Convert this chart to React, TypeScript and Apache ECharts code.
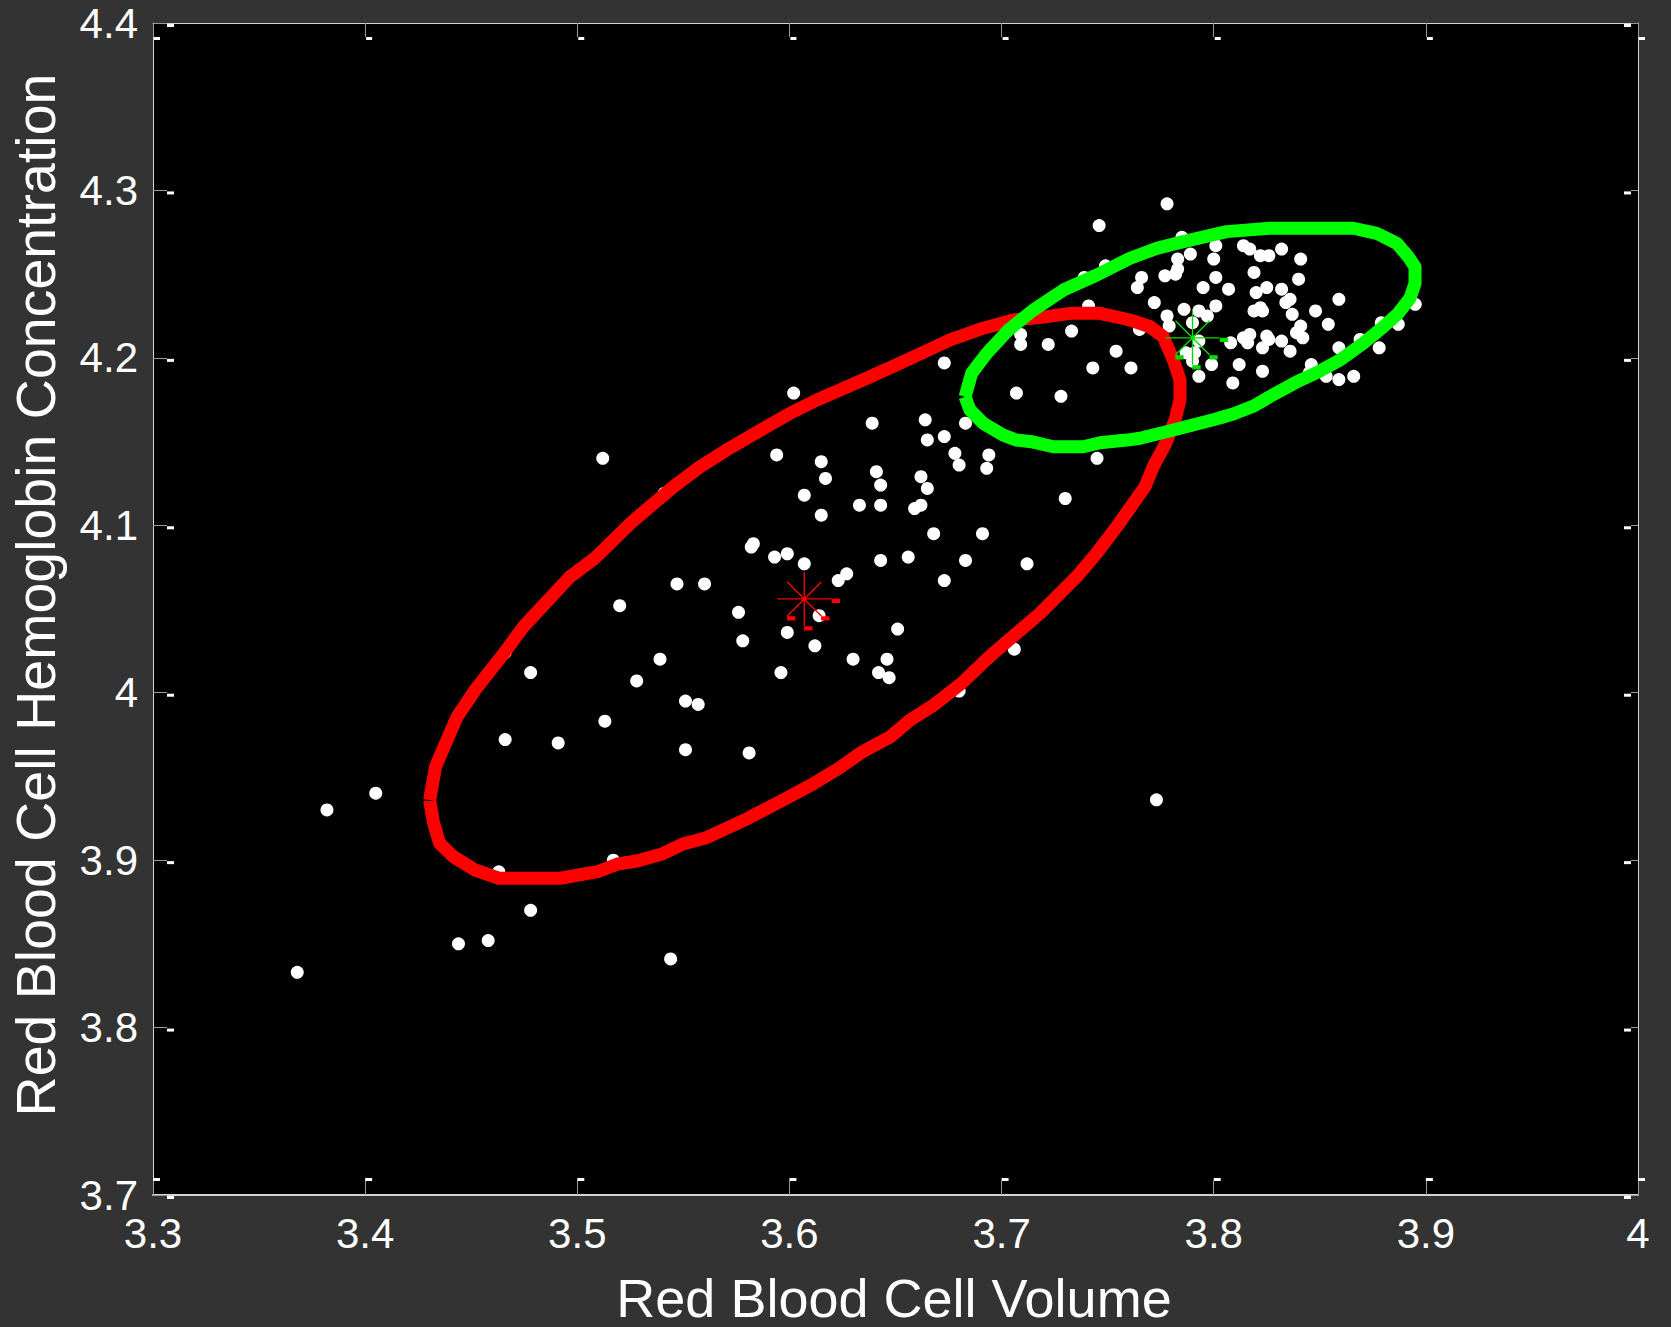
import React, { useEffect, useRef } from "react";
import * as echarts from "echarts";

// Axis ticks
const xTicks = [3.3, 3.4, 3.5, 3.6, 3.7, 3.8, 3.9, 4.0];
const yTicks = [3.7, 3.8, 3.9, 4.0, 4.1, 4.2, 4.3, 4.4];

// Observations: [red blood cell volume, red blood cell hemoglobin concentration]
const cellPoints: [number, number][] = [
  [3.368, 3.833], [3.382, 3.930], [3.405, 3.940], [3.444, 3.850], [3.458, 3.852],
  [3.478, 3.870], [3.544, 3.841], [3.463, 3.893], [3.517, 3.900],
  [3.466, 3.972], [3.491, 3.970], [3.478, 4.012], [3.466, 4.024], [3.513, 3.983],
  [3.528, 4.007], [3.539, 4.020], [3.551, 3.995], [3.557, 3.993], [3.551, 3.966],
  [3.581, 3.964], [3.596, 4.012], [3.578, 4.031], [3.612, 4.028], [3.630, 4.020],
  [3.646, 4.020], [3.642, 4.012], [3.647, 4.009], [3.680, 4.001], [3.706, 4.026],
  [3.520, 4.052], [3.547, 4.065], [3.560, 4.065], [3.576, 4.048], [3.599, 4.036],
  [3.614, 4.046], [3.651, 4.038], [3.583, 4.089], [3.582, 4.087], [3.593, 4.081],
  [3.599, 4.083], [3.607, 4.077], [3.627, 4.071], [3.623, 4.067], [3.643, 4.079],
  [3.656, 4.081], [3.673, 4.067], [3.683, 4.079], [3.712, 4.077], [3.668, 4.095],
  [3.691, 4.095], [3.512, 4.140], [3.541, 4.119], [3.594, 4.142], [3.602, 4.179],
  [3.615, 4.138], [3.617, 4.128], [3.607, 4.118], [3.615, 4.106], [3.639, 4.161],
  [3.641, 4.132], [3.643, 4.124], [3.643, 4.112], [3.633, 4.112], [3.664, 4.163],
  [3.665, 4.151], [3.673, 4.153], [3.662, 4.129], [3.665, 4.122], [3.662, 4.112],
  [3.659, 4.110], [3.678, 4.143], [3.680, 4.136], [3.694, 4.142], [3.693, 4.134],
  [3.673, 4.197], [3.683, 4.161], [3.707, 4.179], [3.728, 4.177], [3.745, 4.140],
  [3.730, 4.116], [3.773, 3.936],
  [3.778, 4.292], [3.746, 4.279], [3.785, 4.272], [3.801, 4.267], [3.814, 4.267],
  [3.817, 4.265], [3.822, 4.261], [3.826, 4.261], [3.832, 4.265], [3.841, 4.259],
  [3.800, 4.259], [3.789, 4.262], [3.783, 4.259], [3.749, 4.255], [3.783, 4.253],
  [3.782, 4.250], [3.777, 4.249], [3.766, 4.248], [3.764, 4.242], [3.739, 4.248],
  [3.801, 4.248], [3.819, 4.251], [3.840, 4.247], [3.795, 4.242], [3.807, 4.241],
  [3.820, 4.239], [3.825, 4.242], [3.832, 4.241], [3.836, 4.235], [3.834, 4.233],
  [3.859, 4.235], [3.848, 4.228], [3.819, 4.228], [3.822, 4.230], [3.823, 4.228],
  [3.837, 4.226], [3.854, 4.220], [3.895, 4.232], [3.887, 4.220], [3.879, 4.221],
  [3.878, 4.206], [3.869, 4.211], [3.859, 4.206], [3.866, 4.189], [3.859, 4.187],
  [3.853, 4.189], [3.846, 4.196], [3.845, 4.191], [3.841, 4.219], [3.839, 4.215],
  [3.842, 4.212], [3.832, 4.210], [3.836, 4.204], [3.825, 4.213], [3.823, 4.206],
  [3.826, 4.211], [3.817, 4.214], [3.816, 4.209], [3.814, 4.212], [3.808, 4.209],
  [3.812, 4.196], [3.823, 4.192], [3.809, 4.185], [3.799, 4.196], [3.793, 4.189],
  [3.790, 4.198], [3.791, 4.203], [3.793, 4.210], [3.787, 4.203], [3.779, 4.219],
  [3.778, 4.225], [3.786, 4.229], [3.793, 4.228], [3.790, 4.221], [3.801, 4.231],
  [3.797, 4.225], [3.772, 4.233], [3.765, 4.217], [3.741, 4.231], [3.733, 4.216],
  [3.722, 4.208], [3.709, 4.208], [3.709, 4.214], [3.754, 4.204], [3.761, 4.194],
  [3.743, 4.194],
];

// Density contour of the first group (red)
const redContour: [number, number][] = [
  [3.4304, 3.9359], [3.4323, 3.9220], [3.4351, 3.9101], [3.4416, 3.9021],
  [3.4518, 3.8941], [3.4631, 3.8892], [3.4919, 3.8892], [3.5096, 3.8931],
  [3.5190, 3.8977], [3.5282, 3.8995], [3.5395, 3.9035], [3.5497, 3.9096],
  [3.5609, 3.9134], [3.5805, 3.9250], [3.5954, 3.9349], [3.6103, 3.9449],
  [3.6233, 3.9549], [3.6345, 3.9648], [3.6476, 3.9737], [3.6569, 3.9837],
  [3.6681, 3.9927], [3.6811, 4.0056], [3.6946, 4.0219], [3.7181, 4.0474],
  [3.7354, 4.0693], [3.7448, 4.0833], [3.7543, 4.0992], [3.7621, 4.1131],
  [3.7676, 4.1230], [3.7715, 4.1350], [3.7770, 4.1480], [3.7818, 4.1629],
  [3.7841, 4.1748], [3.7841, 4.1868], [3.7810, 4.1987], [3.7762, 4.2126],
  [3.7700, 4.2186], [3.7606, 4.2226], [3.7464, 4.2266], [3.7323, 4.2266],
  [3.7213, 4.2246], [3.7055, 4.2226], [3.6914, 4.2177], [3.6757, 4.2107],
  [3.6553, 4.1987], [3.6380, 4.1887], [3.6238, 4.1808], [3.6129, 4.1748],
  [3.6003, 4.1669], [3.5893, 4.1589], [3.5704, 4.1450], [3.5579, 4.1350],
  [3.5453, 4.1230], [3.5263, 4.1026], [3.5084, 4.0805], [3.4966, 4.0693],
  [3.4746, 4.0394], [3.4659, 4.0243], [3.4518, 4.0016], [3.4434, 3.9857],
  [3.4379, 3.9698], [3.4332, 3.9558], [3.4304, 3.9359],
];

// Density contour of the second group (green)
const greenContour: [number, number][] = [
  [3.6828, 4.1768], [3.6851, 4.1689], [3.6914, 4.1609], [3.7008, 4.1539],
  [3.7071, 4.1509], [3.7150, 4.1497], [3.7244, 4.1469], [3.7385, 4.1469],
  [3.7464, 4.1493], [3.7590, 4.1509], [3.7653, 4.1520], [3.7810, 4.1569],
  [3.7998, 4.1630], [3.8092, 4.1665], [3.8187, 4.1712], [3.8281, 4.1780],
  [3.8391, 4.1856], [3.8486, 4.1912], [3.8595, 4.1987], [3.8705, 4.2087],
  [3.8800, 4.2186], [3.8870, 4.2266], [3.8925, 4.2356], [3.8949, 4.2445],
  [3.8949, 4.2544], [3.8917, 4.2604], [3.8863, 4.2684], [3.8768, 4.2744],
  [3.8658, 4.2774], [3.8265, 4.2774], [3.8061, 4.2754], [3.7857, 4.2694],
  [3.7731, 4.2654], [3.7606, 4.2595], [3.7449, 4.2495], [3.7291, 4.2405],
  [3.7150, 4.2286], [3.7032, 4.2166], [3.6930, 4.2027], [3.6859, 4.1908],
  [3.6828, 4.1768],
];

// Group means
const redCenter: [number, number] = [3.607, 4.056];
const greenCenter: [number, number] = [3.79, 4.212];

const FONT = '"Liberation Sans", Arial, Helvetica, sans-serif';

// Asterisk marker with the little end-caps on each stroke
const STAR =
  "path://M-27 0L27 0M0 -27L0 27M-17 -17L17 17M17 -17L-17 17" +
  "M28 0.5h7v3h-7zM0.5 28h7v3h-7zM17.5 18h7v3h-7zM-16.5 18h7v3h-7z";

const tickFmt = (v: number) => String(Number(v.toFixed(1)));

export default function App() {
  const ref = useRef<HTMLDivElement>(null);

  useEffect(() => {
    if (!ref.current) return;
    const chart = echarts.init(ref.current, null, { renderer: "svg" });

    const frame = "#d4d4d4";
    const tickLine = { color: "#9a9a9a", width: 1 };

    const baseX = {
      type: "value" as const,
      min: 3.3,
      max: 4.0,
      interval: 0.1,
      splitLine: { show: false },
    };
    const baseY = {
      type: "value" as const,
      min: 3.7,
      max: 4.4,
      interval: 0.1,
      splitLine: { show: false },
    };

    chart.setOption({
      animation: false,
      backgroundColor: "#333333",
      grid: {
        left: 153,
        right: 33,
        top: 23,
        bottom: 132,
        show: true,
        backgroundColor: "#000000",
        borderWidth: 0,
      },
      xAxis: [
        {
          ...baseX,
          position: "bottom",
          axisLine: { show: true, onZero: false, lineStyle: { color: frame, width: 2 } },
          axisTick: { show: true, inside: true, length: 14, lineStyle: tickLine },
          axisLabel: {
            color: "#ffffff",
            fontSize: 42,
            fontFamily: FONT,
            margin: 17,
            formatter: tickFmt,
          },
        },
        {
          ...baseX,
          position: "top",
          axisLine: { show: true, onZero: false, lineStyle: { color: frame, width: 1 } },
          axisTick: { show: true, inside: true, length: 14, lineStyle: tickLine },
          axisLabel: { show: false },
        },
      ],
      yAxis: [
        {
          ...baseY,
          position: "left",
          axisLine: { show: true, onZero: false, lineStyle: { color: frame, width: 1 } },
          axisTick: { show: true, inside: true, length: 14, lineStyle: tickLine },
          axisLabel: {
            color: "#ffffff",
            fontSize: 42,
            fontFamily: FONT,
            margin: 15,
            formatter: tickFmt,
          },
        },
        {
          ...baseY,
          position: "right",
          axisLine: { show: true, onZero: false, lineStyle: { color: frame, width: 1 } },
          axisTick: { show: true, inside: true, length: 7, lineStyle: tickLine },
          axisLabel: { show: false },
        },
      ],
      series: [
        {
          name: "Cells",
          type: "scatter",
          data: cellPoints,
          symbol: "circle",
          symbolSize: 13,
          itemStyle: { color: "#ffffff", opacity: 1 },
          z: 2,
          silent: true,
        },
        {
          name: "Group 1 contour",
          type: "line",
          data: redContour,
          symbol: "none",
          lineStyle: { color: "#ff0000", width: 13, join: "round" },
          z: 3,
          silent: true,
        },
        {
          name: "Group 2 contour",
          type: "line",
          data: greenContour,
          symbol: "none",
          lineStyle: { color: "#00ff00", width: 13, join: "round" },
          z: 4,
          silent: true,
        },
        {
          name: "Group 1 mean",
          type: "scatter",
          data: [redCenter],
          symbol: STAR,
          symbolSize: [62, 58],
          symbolOffset: [4, 2],
          itemStyle: { color: "#ff0000", borderColor: "#ff0000", borderWidth: 1.3, opacity: 1 },
          z: 6,
          silent: true,
        },
        {
          name: "Group 2 mean",
          type: "scatter",
          data: [greenCenter],
          symbol: STAR,
          symbolSize: [62, 58],
          symbolOffset: [4, 2],
          itemStyle: { color: "#00dd00", borderColor: "#00dd00", borderWidth: 1.3, opacity: 1 },
          z: 6,
          silent: true,
        },
      ],
    });

    // Small end-caps at the tip of every tick, placed through the axis scales
    const caps: any[] = [];
    const cap = (x: number, y: number, w: number) => ({
      type: "rect",
      shape: { x, y, width: w, height: 3 },
      style: { fill: "#ffffff" },
      z: 20,
      silent: true,
    });
    xTicks.forEach((t) => {
      const b = chart.convertToPixel({ gridIndex: 0 }, [t, 3.7]) as number[];
      const tp = chart.convertToPixel({ gridIndex: 0 }, [t, 4.4]) as number[];
      caps.push(cap(b[0], b[1] - 17, 7));
      caps.push(cap(tp[0] + 1, tp[1] + 14, 6));
    });
    yTicks.forEach((t) => {
      const l = chart.convertToPixel({ gridIndex: 0 }, [3.3, t]) as number[];
      const r = chart.convertToPixel({ gridIndex: 0 }, [4.0, t]) as number[];
      caps.push(cap(l[0] + 14, l[1] + 1, 7));
      caps.push(cap(r[0] - 14, r[1] + 1, 7));
    });

    chart.setOption({
      graphic: [
        {
          type: "text",
          x: 894,
          y: 1298,
          style: {
            text: "Red Blood Cell Volume",
            fill: "#ffffff",
            fontSize: 54,
            fontFamily: FONT,
            align: "center",
            verticalAlign: "middle",
          },
          silent: true,
        },
        {
          type: "text",
          x: 36,
          y: 595,
          rotation: Math.PI / 2,
          style: {
            text: "Red Blood Cell Hemoglobin Concentration",
            fill: "#ffffff",
            fontSize: 55.5,
            fontFamily: FONT,
            align: "center",
            verticalAlign: "middle",
          },
          silent: true,
        },
        ...caps,
      ],
    });

    return () => chart.dispose();
  }, []);

  return (
    <div
      ref={ref}
      style={{ position: "absolute", left: 0, top: 0, width: 1671, height: 1327 }}
    />
  );
}
